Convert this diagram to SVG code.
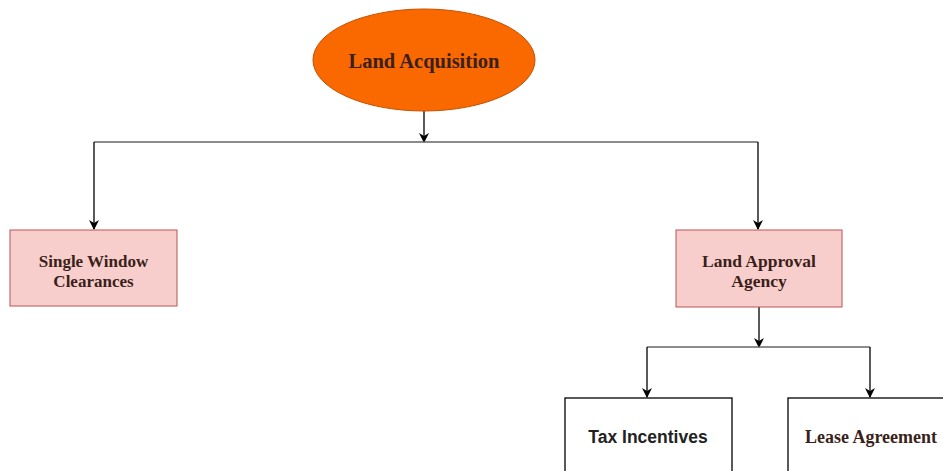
<svg xmlns="http://www.w3.org/2000/svg" width="943" height="471" viewBox="0 0 943 471">
  <style>
    .pink { fill: #f8cecc; stroke: #b85450; stroke-width: 1; }
    .plain { fill: #ffffff; stroke: #000000; stroke-width: 1.3; }
    .serif { font-family: "Liberation Serif", "DejaVu Serif", serif; font-weight: bold; text-anchor: middle; fill: #3a1f1a; }
    .sans { font-family: "Liberation Sans", Arial, sans-serif; font-weight: bold; text-anchor: middle; fill: #222222; }
    .bus { fill: none; stroke: #666666; stroke-width: 1.6; }
    .drop { fill: none; stroke: #000000; stroke-width: 1.3; marker-end: url(#arrow); }
  </style>
  <defs>
    <marker id="arrow" viewBox="0 0 10 10" refX="9" refY="5" markerWidth="10" markerHeight="10" markerUnits="userSpaceOnUse" orient="auto">
      <path d="M0,0 L10,5 L0,10 L3,5 Z" fill="#000000"/>
    </marker>
  </defs>
  <rect width="943" height="471" fill="#ffffff"/>

  <g id="connectors">
    <line class="drop" x1="424" y1="111" x2="424" y2="142"/>
    <polyline class="bus" points="94,142 758,142"/>
    <line class="drop" x1="94" y1="142" x2="94" y2="229"/>
    <line class="drop" x1="758" y1="142" x2="758" y2="229"/>
    <line class="drop" x1="759" y1="307" x2="759" y2="347"/>
    <polyline class="bus" points="647,347 870,347"/>
    <line class="drop" x1="647" y1="347" x2="647" y2="397"/>
    <line class="drop" x1="870" y1="347" x2="870" y2="397"/>
  </g>

  <g id="land-acquisition">
    <ellipse cx="424" cy="60" rx="111" ry="51" fill="#fa6800" stroke="#c75000" stroke-width="1"/>
    <text class="serif" x="424" y="68" font-size="20.5" fill="#3a1408">Land Acquisition</text>
  </g>

  <g id="single-window">
    <rect class="pink" x="10" y="230" width="167" height="76"/>
    <text class="serif" x="93.5" y="267" font-size="17">Single Window</text>
    <text class="serif" x="93.5" y="287" font-size="17">Clearances</text>
  </g>

  <g id="land-approval">
    <rect class="pink" x="676" y="230" width="166" height="77"/>
    <text class="serif" x="759" y="267" font-size="17.5">Land Approval</text>
    <text class="serif" x="759" y="287" font-size="17.5">Agency</text>
  </g>

  <g id="tax-incentives">
    <rect class="plain" x="565" y="398" width="167" height="80"/>
    <text class="sans" x="648" y="443" font-size="17.5">Tax Incentives</text>
  </g>

  <g id="lease-agreement">
    <rect class="plain" x="788" y="398" width="167" height="80"/>
    <text class="serif" x="871" y="443" font-size="18">Lease Agreement</text>
  </g>
</svg>
